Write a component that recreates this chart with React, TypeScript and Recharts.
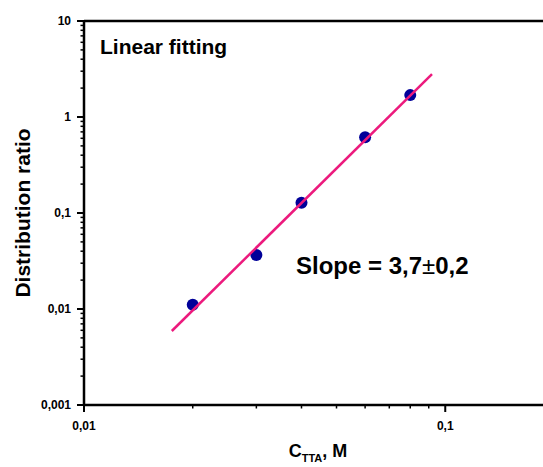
import React from 'react';
import {
  ScatterChart,
  Scatter,
  XAxis,
  YAxis,
  ReferenceLine
} from 'recharts';

// measured data (C_TTA in M, distribution ratio D)
const concentrations = [0.02, 0.03, 0.04, 0.06, 0.08];
const ratios = [0.0111, 0.0365, 0.128, 0.615, 1.69];

// linear fit drawn as a straight segment in log-log space
const fitX = [0.0175, 0.0919];
const fitY = [0.0059, 2.79];

const xMajorTicks = [0.01, 0.1];
const xTickLabels = ['0,01', '0,1'];
const yMajorTicks = [0.001, 0.01, 0.1, 1, 10];
const yTickLabels = ['0,001', '0,01', '0,1', '1', '10'];
const minorSteps = [2, 3, 4, 5, 6, 7, 8, 9];

const points = concentrations.map((x, i) => ({ x, y: ratios[i] }));
const fitLine = fitX.map((x, i) => ({ x, y: fitY[i] }));

const withMinors = (majors: number[], max: number) => {
  const out: number[] = [];
  majors.forEach((m) => {
    out.push(m);
    minorSteps.forEach((s) => {
      const v = +(m * s).toPrecision(3);
      if (v < max) out.push(v);
    });
  });
  return out.filter((v) => v <= max);
};

const xTicks = withMinors(xMajorTicks, 0.2);
const yTicks = withMinors(yMajorTicks, 10);

const FONT = '"Liberation Sans", Arial, Helvetica, sans-serif';

const isMajor = (v: number, majors: number[]) =>
  majors.findIndex((m) => Math.abs(m - v) / m < 1e-6);

const YTick = (props: any) => {
  const { x, y, payload } = props;
  const idx = isMajor(payload.value, yMajorTicks);
  const len = idx >= 0 ? 7 : 3.5;
  return (
    <g>
      <line x1={x - len} x2={x} y1={y} y2={y} stroke="#000" strokeWidth={idx >= 0 ? 2 : 1.5} />
      {idx >= 0 && (
        <text
          x={x - 13}
          y={y}
          dy="0.36em"
          textAnchor="end"
          fontFamily={FONT}
          fontWeight="bold"
          fontSize={12}
          fill="#000"
        >
          {yTickLabels[idx]}
        </text>
      )}
    </g>
  );
};

const XTick = (props: any) => {
  const { x, y, payload } = props;
  const idx = isMajor(payload.value, xMajorTicks);
  const len = idx >= 0 ? 7 : 3.5;
  return (
    <g>
      <line x1={x} x2={x} y1={y} y2={y + len} stroke="#000" strokeWidth={idx >= 0 ? 2 : 1.5} />
      {idx >= 0 && (
        <text
          x={x}
          y={y + 25}
          textAnchor="middle"
          fontFamily={FONT}
          fontWeight="bold"
          fontSize={12}
          fill="#000"
        >
          {xTickLabels[idx]}
        </text>
      )}
    </g>
  );
};

const Dot = (props: any) => {
  const { cx, cy } = props;
  return <circle cx={cx} cy={cy} r={6} fill="#000099" />;
};

export default function App() {
  return (
    <div
      style={{
        position: 'fixed',
        top: 0,
        left: 0,
        width: 543,
        height: 467,
        overflow: 'hidden',
        background: '#fff'
      }}
    >
      <ScatterChart
        width={570}
        height={467}
        margin={{ top: 21, right: 16, bottom: 0, left: 0 }}
      >
        <XAxis
          type="number"
          dataKey="x"
          scale="log"
          domain={[0.01, 0.2]}
          allowDataOverflow
          ticks={xTicks}
          interval={0}
          tick={<XTick />}
          tickLine={false}
          tickSize={0}
          tickMargin={0}
          height={62}
          axisLine={{ stroke: '#000', strokeWidth: 2.5 }}
        />
        <YAxis
          type="number"
          dataKey="y"
          scale="log"
          domain={[0.001, 10]}
          allowDataOverflow
          ticks={yTicks}
          interval={0}
          tick={<YTick />}
          tickLine={false}
          tickSize={0}
          tickMargin={0}
          width={84}
          axisLine={{ stroke: '#000', strokeWidth: 2.5 }}
        />
        <ReferenceLine y={10} stroke="#000" strokeWidth={2.5} />
        <Scatter data={points} shape={<Dot />} isAnimationActive={false} />
        <Scatter
          data={fitLine}
          line={{ stroke: '#ec1a7d', strokeWidth: 2.5 }}
          shape={() => <g />}
          isAnimationActive={false}
        />
      </ScatterChart>
      <svg
        width={543}
        height={467}
        style={{ position: 'absolute', top: 0, left: 0, pointerEvents: 'none' }}
      >
        <text x={100} y={54} fontFamily={FONT} fontWeight="bold" fontSize={21} fill="#000">
          Linear fitting
        </text>
        <text x={296} y={274} fontFamily={FONT} fontWeight="bold" fontSize={24} fill="#000">
          Slope = 3,7<tspan fontWeight="normal">±</tspan>0,2
        </text>
        <text
          x={30}
          y={213}
          transform="rotate(-90 30 213)"
          textAnchor="middle"
          fontFamily={FONT}
          fontWeight="bold"
          fontSize={21}
          fill="#000"
        >
          Distribution ratio
        </text>
        <text x={318} y={457} textAnchor="middle" fontFamily={FONT} fontWeight="bold" fontSize={18} fill="#000">
          C<tspan fontSize={11} dy={5}>TTA</tspan>
          <tspan dy={-5}>, M</tspan>
        </text>
      </svg>
    </div>
  );
}
